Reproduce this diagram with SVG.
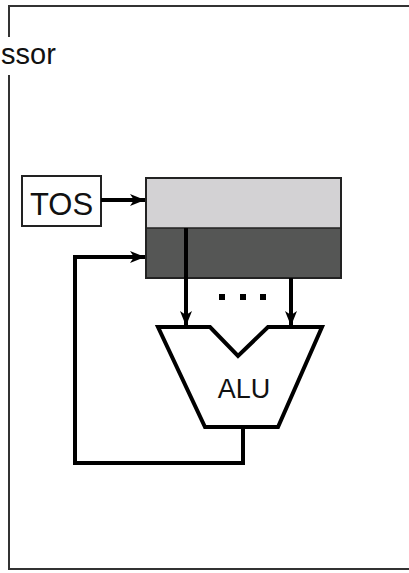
<svg xmlns="http://www.w3.org/2000/svg" width="409" height="573" viewBox="0 0 409 573">
<style>
.t{font-family:"Liberation Sans",Arial,sans-serif;fill:#111}
.wire{fill:none;stroke:#000;stroke-width:4}
.frame{fill:none;stroke:#333;stroke-width:2}
</style>
<defs>
<marker id="ah" markerUnits="userSpaceOnUse" markerWidth="16" markerHeight="12" refX="15" refY="6" orient="auto">
<path d="M0,0 L15,6 L0,12 L4,6 Z" fill="#000"/>
</marker>
</defs>
<rect width="409" height="573" fill="#fff"/>
<g id="processor">
<path class="frame" d="M9,37 V6 H412 M9,75 V569 H412"/>
<text class="t" x="1" y="64" font-size="29">ssor</text>
</g>
<g id="tos">
<rect x="22" y="176" width="79" height="50" fill="#fff" stroke="#222" stroke-width="2"/>
<text class="t" x="61.5" y="215" font-size="31" text-anchor="middle">TOS</text>
</g>
<g id="stack">
<rect x="146" y="178" width="195" height="50" fill="#d3d2d4"/>
<rect x="146" y="228" width="195" height="50" fill="#555655"/>
<rect x="146" y="178" width="195" height="100" fill="none" stroke="#222" stroke-width="2"/>
<line x1="146" y1="228" x2="341" y2="228" stroke="#222" stroke-width="1.5"/>
</g>
<g id="dots" fill="#000">
<rect x="219" y="294" width="6" height="6"/>
<rect x="240" y="294" width="6" height="6"/>
<rect x="260" y="294" width="6" height="6"/>
</g>
<g id="alu">
<path d="M158,327 H210 L238,356 L268,327 H322 L278,427 H205 Z" fill="#fff" stroke="#000" stroke-width="4" stroke-linejoin="miter"/>
<text class="t" x="244" y="398" font-size="27" text-anchor="middle">ALU</text>
</g>
<g id="connectors">
<line class="wire" x1="101" y1="200" x2="145" y2="200" stroke-width="3.5" marker-end="url(#ah)"/>
<path class="wire" d="M243,427 V463 H75 V257 H145" stroke-width="3.5" marker-end="url(#ah)"/>
<line class="wire" x1="186" y1="228" x2="186" y2="326" marker-end="url(#ah)"/>
<line class="wire" x1="291" y1="278" x2="291" y2="326" marker-end="url(#ah)"/>
</g>
</svg>
